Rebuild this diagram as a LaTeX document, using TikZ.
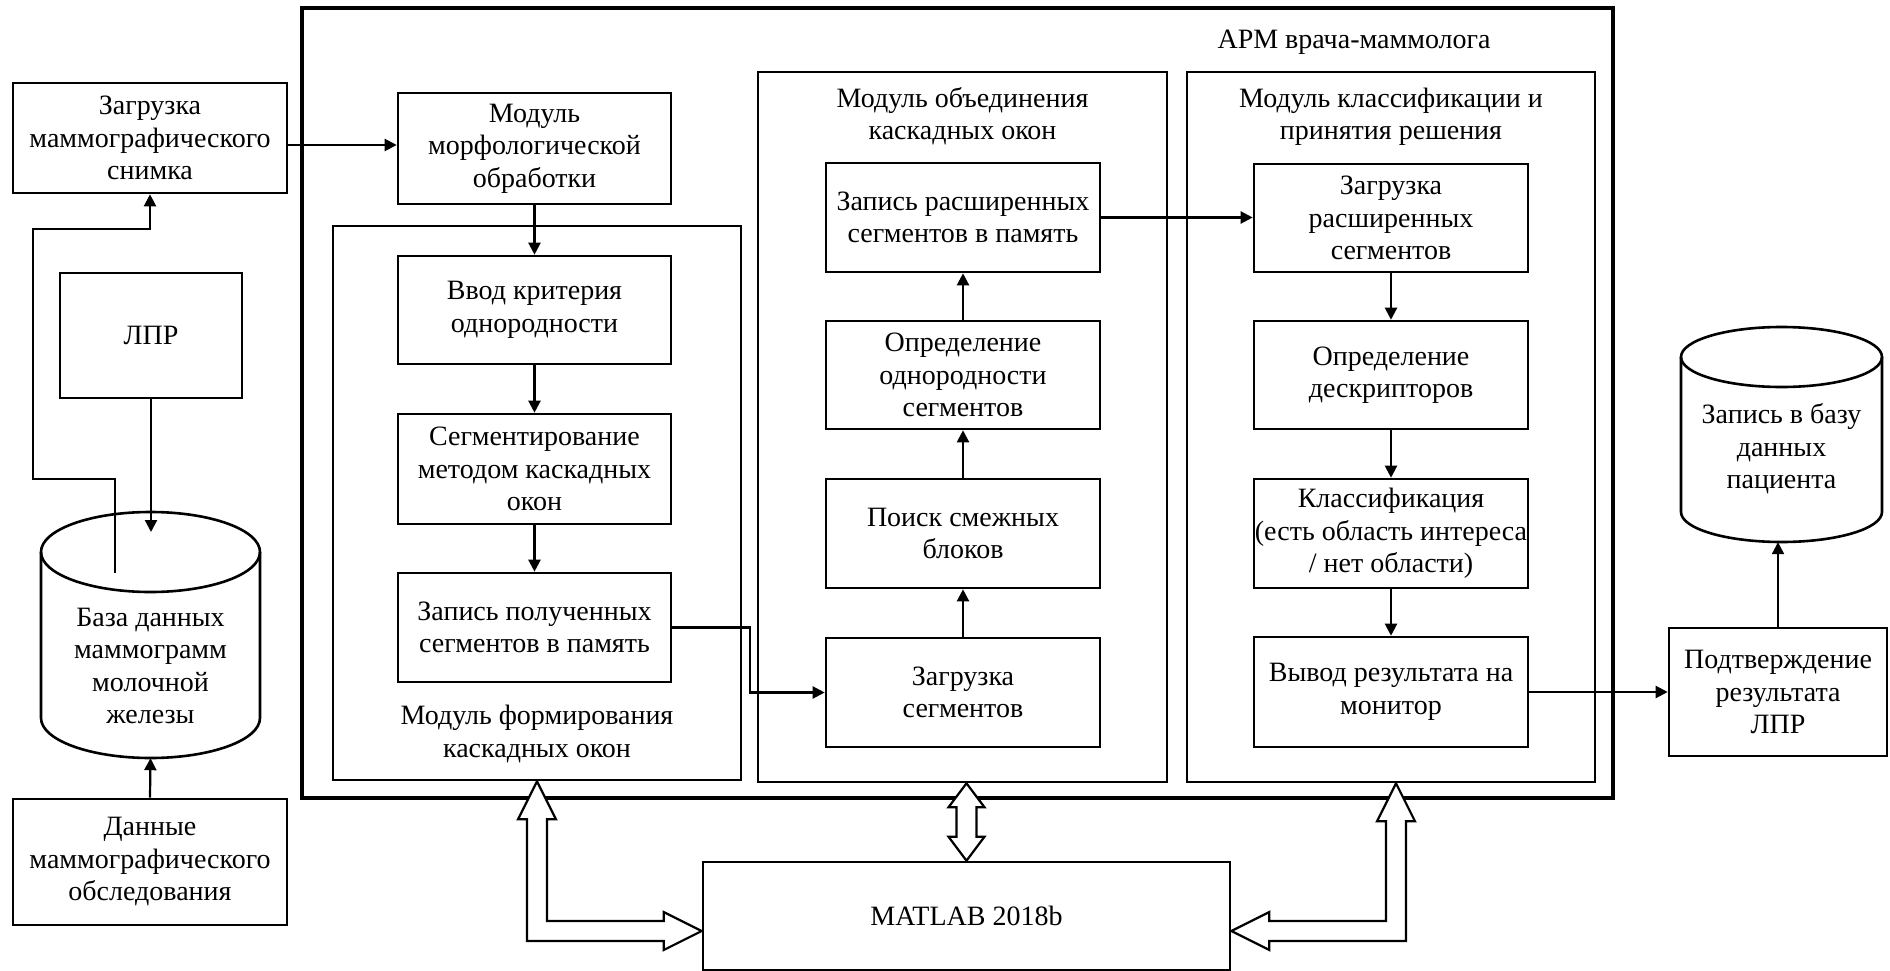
\documentclass[tikz,border=0pt]{standalone}
\usepackage{fontspec}
\setmainfont{Liberation Serif}
\usetikzlibrary{arrows.meta,calc}
\tikzset{
  txt/.style={font=\fontsize{28}{32.5}\selectfont, align=center, inner sep=0pt},
  box/.style 2 args={txt, draw, line width=2.6pt, minimum width=#1pt, minimum height=#2pt},
  ghost/.style 2 args={inner sep=0pt, minimum width=#1pt, minimum height=#2pt},
  arr/.style={line width=2.2pt, -{Triangle[length=12pt,width=12pt]}},
  cyl/.style={line width=2.6pt},
  hol/.style={draw, fill=white, line width=2.2pt, line join=miter}
}
\begin{document}
\begin{tikzpicture}[x=1pt,y=-1pt]
\useasboundingbox (0,0) rectangle (1890,971);

% outer workstation frame
\node[draw, line width=4.5pt, ghost={1311}{790}] (arm) at (957.5,403) {};
\node[txt] (armt) at (1354,42) {АРМ врача-маммолога};

% left column
\node[box={274}{110}] (zs) at (150,138) {Загрузка\\маммографического\\снимка};
\node[box={182}{125}] (lpr) at (151,335.5) {ЛПР};
\node[box={274}{126}] (dan) at (150,862) {Данные\\маммографического\\обследования};

% left cylinder
\node[ghost={219}{246}] (db) at (150.5,635) {};
\draw[cyl] (41,552) -- (41,718) arc[start angle=180, end angle=360, x radius=109.5pt, y radius=40pt] -- (260,552);
\draw[cyl] (150.5,552) ellipse[x radius=109.5pt, y radius=40pt];
\node[txt] (dbt) at (150.5,666) {База данных\\маммограмм\\молочной\\железы};

% module of cascade windows formation
\node[draw, line width=2.6pt, ghost={408}{554}] (form) at (537,503) {};
\node[txt] (formt) at (537,734) {Модуль формирования\\каскадных окон};
\node[box={273}{111}] (morph) at (534.5,148.5) {Модуль\\морфологической\\обработки};
\node[box={273}{108}] (vvod) at (534.5,310) {Ввод критерия\\однородности};
\node[box={273}{110}] (segm) at (534.5,469) {Сегментирование\\методом каскадных\\окон};
\node[box={273}{109}] (zp) at (534.5,627.5) {Запись полученных\\сегментов в память};

% module of cascade windows merging
\node[draw, line width=2.6pt, ghost={409}{710}] (obed) at (962.5,427) {};
\node[txt] (obedt) at (962.5,116) {Модуль объединения\\каскадных окон};
\node[box={274}{109}] (zr) at (963,217.5) {Запись расширенных\\сегментов в память};
\node[box={274}{108}] (opr) at (963,375) {Определение\\однородности\\сегментов};
\node[box={274}{109}] (poisk) at (963,533.5) {Поиск смежных\\блоков};
\node[box={274}{109}] (zseg) at (963,692.5) {Загрузка\\сегментов};

% classification module
\node[draw, line width=2.6pt, ghost={408}{710}] (klass) at (1391,427) {};
\node[txt] (klasst) at (1391,117) {Модуль классификации и\\принятия решения};
\node[box={274}{108}] (zrs) at (1391,218) {Загрузка\\расширенных\\сегментов};
\node[box={274}{108}] (desc) at (1391,375) {Определение\\дескрипторов};
\node[box={274}{109}] (klf) at (1391,533.5) {Классификация\\(есть область интереса\\/ нет области)};
\node[box={274}{110}] (vyv) at (1391,692) {Вывод результата на\\монитор};

% right side
\node[box={218}{128}] (podt) at (1778,692) {Подтверждение\\результата\\ЛПР};
\node[ghost={201}{215}] (rdb) at (1781.5,434.5) {};
\draw[cyl] (1681,357) -- (1681,512) arc[start angle=180, end angle=360, x radius=100.5pt, y radius=30pt] -- (1882,357);
\draw[cyl] (1781.5,357) ellipse[x radius=100.5pt, y radius=30pt];
\node[txt] (rdbt) at (1781.5,449) {Запись в базу\\данных\\пациента};

% MATLAB
\node[box={527}{108}] (matlab) at (966.5,916) {MATLAB 2018b};

% connectors, left
\coordinate (dbout) at (115,573);
\coordinate (w1) at (115,479);
\coordinate (w2) at (33,479);
\coordinate (w3) at (33,229);
\coordinate (w4) at (150,229);
\draw[arr] (dbout) -- (w1) -- (w2) -- (w3) -- (w4) -- (zs.south);
\coordinate (dbin) at (151,532);
\draw[arr] (lpr.south) -- (dbin);
\draw[arr] (dan.north) -- (db.south);

% connectors, middle
\coordinate (zsout) at ($(zs.east)+(0,7)$);
\draw[arr] (zsout) -- (zsout -| morph.west);
\draw[arr] (morph.south) -- (vvod.north);
\draw[arr] (vvod.south) -- (segm.north);
\draw[arr] (segm.south) -- (zp.north);
\draw[arr] (zp.east) -- ++(78,0) |- (zseg.west);
\draw[arr] (zseg.north) -- (poisk.south);
\draw[arr] (poisk.north) -- (opr.south);
\draw[arr] (opr.north) -- (zr.south);
\draw[arr] (zr.east) -- (zr.east -| zrs.west);
\draw[arr] (zrs.south) -- (desc.north);
\draw[arr] (desc.south) -- (klf.north);
\draw[arr] (klf.south) -- (vyv.north);
\draw[arr] (vyv.east) -- (podt.west);
\draw[arr] (podt.north) -- (podt.north |- rdb.south);

% hollow double arrows to MATLAB
\draw[hol] let \p1=(form.south), \p2=(matlab.west) in
  (\x1,\y1) -- ({\x1+19pt},{\y1-38pt}) -- ({\x1+10pt},{\y1-38pt}) -- ({\x1+10pt},{\y2-5pt})
  -- ({\x2-38pt},{\y2-5pt}) -- ({\x2-38pt},{\y2+4pt}) -- (\x2,{\y2-15pt}) -- ({\x2-38pt},{\y2-34pt})
  -- ({\x2-38pt},{\y2-25pt}) -- ({\x1-10pt},{\y2-25pt}) -- ({\x1-10pt},{\y1-38pt}) -- ({\x1-19pt},{\y1-38pt}) -- cycle;
\draw[hol] let \p1=(obed.south), \p2=(matlab.north) in
  (\x2,\y1) -- ({\x2+18pt},{\y1-24pt}) -- ({\x2+10pt},{\y1-24pt}) -- ({\x2+10pt},{\y2+24pt})
  -- ({\x2+18pt},{\y2+24pt}) -- (\x2,\y2) -- ({\x2-18pt},{\y2+24pt}) -- ({\x2-10pt},{\y2+24pt})
  -- ({\x2-10pt},{\y1-24pt}) -- ({\x2-18pt},{\y1-24pt}) -- cycle;
\draw[hol] let \p1=(klass.south), \p2=(matlab.east) in
  ({\x1+5pt},\y1) -- ({\x1+24pt},{\y1-38pt}) -- ({\x1+15pt},{\y1-38pt}) -- ({\x1+15pt},{\y2-25pt})
  -- ({\x2+38pt},{\y2-25pt}) -- ({\x2+38pt},{\y2-34pt}) -- (\x2,{\y2-15pt}) -- ({\x2+38pt},{\y2+4pt})
  -- ({\x2+38pt},{\y2-5pt}) -- ({\x1-5pt},{\y2-5pt}) -- ({\x1-5pt},{\y1-38pt}) -- ({\x1-14pt},{\y1-38pt}) -- cycle;
\end{tikzpicture}
\end{document}
